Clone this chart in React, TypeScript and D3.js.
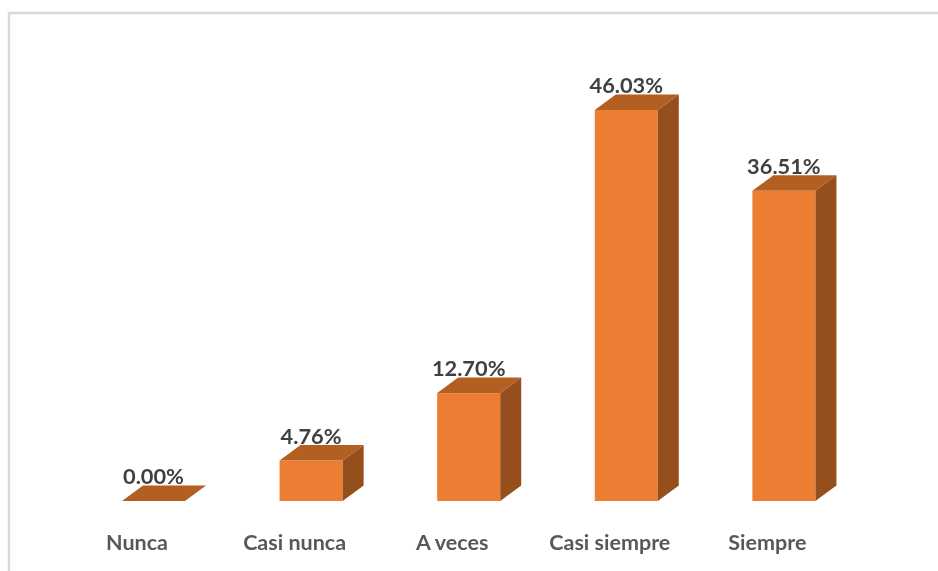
import React from "react";
import * as d3 from "d3";

const categories = ["Nunca", "Casi nunca", "A veces", "Casi siempre", "Siempre"];
const values = [0.0, 4.76, 12.7, 46.03, 36.51];
const valueLabels = ["0.00%", "4.76%", "12.70%", "46.03%", "36.51%"];

const FRONT = "#ed7d31";
const TOP = "#b35f24";
const SIDE = "#95501e";
const DX = 21;
const DY = 15.5;
const FONT = "Lato, 'Open Sans', sans-serif";

export default function App() {
  const x = d3.scaleBand<string>().domain(categories).range([74.7, 862.7]).paddingInner(0.6).paddingOuter(0.3);
  const y = d3.scaleLinear().domain([0, 46.03]).range([501, 110]);
  const poly = d3.line();
  return (
    <svg width={938} height={571} style={{ position: "absolute", left: 0, top: 0, background: "#fff" }}>
      <defs>
        <filter id="soft" x="-5%" y="-5%" width="110%" height="110%">
          <feGaussianBlur stdDeviation="0.45" />
        </filter>
      </defs>
      <path d="M9 571V13H938" fill="none" stroke="#d9d9d9" strokeWidth={2.4} />
      <g filter="url(#soft)">
        {categories.map((c, i) => {
          const x0 = x(c) as number;
          const x1 = x0 + x.bandwidth();
          const yT = y(values[i]);
          const yB = y(0);
          return (
            <g key={c}>
              {values[i] > 0 && <rect x={x0} y={yT} width={x.bandwidth()} height={yB - yT} fill={FRONT} />}
              {values[i] > 0 && (
                <path
                  d={poly([[x1, yT], [x1 + DX, yT - DY], [x1 + DX, yB - DY], [x1, yB]]) + "Z"}
                  fill={SIDE}
                />
              )}
              <path
                d={poly([[x0, yT], [x0 + DX, yT - DY], [x1 + DX, yT - DY], [x1, yT]]) + "Z"}
                fill={TOP}
              />
              <text
                x={(x0 + x1) / 2}
                y={yT - 17}
                textAnchor="middle"
                fontFamily={FONT}
                fontWeight={700}
                fontSize={21.8}
                fill="#404040"
              >
                {valueLabels[i]}
              </text>
              <text
                x={(x0 + x1) / 2 - 16.5}
                y={550}
                textAnchor="middle"
                fontFamily={FONT}
                fontWeight={700}
                fontSize={21.5}
                fill="#595959"
              >
                {c}
              </text>
            </g>
          );
        })}
      </g>
    </svg>
  );
}
